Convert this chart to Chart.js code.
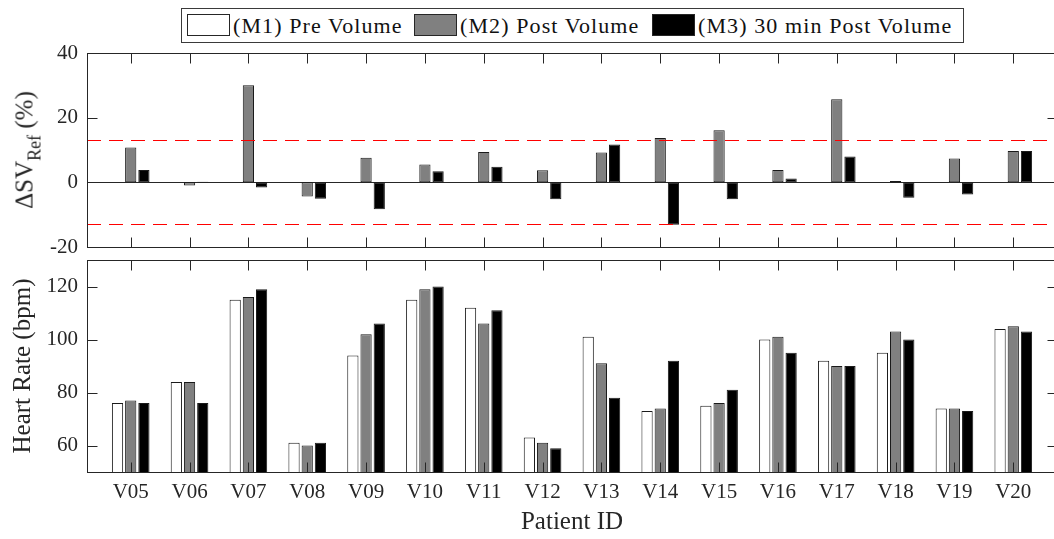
<!DOCTYPE html>
<html>
<head>
<meta charset="utf-8">
<script src="https://cdn.jsdelivr.net/npm/chart.js@4.4.1/dist/chart.umd.min.js"></script>
<style>
  html, body { margin: 0; padding: 0; background: #fff; overflow: hidden; }
  #wrap { position: relative; width: 1070px; height: 539px; font-family: 'Liberation Serif', 'Times New Roman', serif; color: #111; }
  canvas { position: absolute; left: 0; top: 0; }
  #legend { position: absolute; left: 181px; top: 8px; width: 781px; height: 33px; border: 1px solid #3a3a3a; background: #fff; }
  .sw { position: absolute; top: 5px; width: 41px; height: 20px; border: 1px solid #262626; }
  .lt { position: absolute; top: 0; line-height: 33px; font-size: 22px; white-space: nowrap; letter-spacing: 1.1px; }
  #svTitle { position: absolute; left: 23.6px; top: 150px; transform: translate(-50%, -50%) rotate(-90deg);
             font-size: 25px; line-height: 25px; white-space: nowrap; color: #262626; }
  #svTitle span { font-size: 18px; line-height: 0; position: relative; top: 8px; }
</style>
</head>
<body>
<div id="wrap">
  <canvas id="svChart" width="1070" height="539"></canvas>
  <canvas id="hrChart" width="1070" height="539"></canvas>
  <div id="svTitle">ΔSV<span>Ref</span> (%)</div>
  <div id="legend"></div>
</div>
<script>
// patients on the x axis
const patients = ['V05', 'V06', 'V07', 'V08', 'V09', 'V10', 'V11', 'V12',
                  'V13', 'V14', 'V15', 'V16', 'V17', 'V18', 'V19', 'V20'];

const seriesNames = ['(M1) Pre Volume', '(M2) Post Volume', '(M3) 30 min Post Volume'];

// change in stroke volume vs reference (%)
const svM1 = [0, 0, 0, 0, 0, 0, 0, 0, 0, 0, 0, 0, 0, 0, 0, 0];
const svM2 = [10.8, -1.0, 30.0, -4.4, 7.6, 5.5, 9.4, 3.7, 9.2, 13.7, 16.1, 3.8, 25.7, 0.4, 7.4, 9.7];
const svM3 = [3.8, 0.2, -1.6, -5.1, -8.3, 3.4, 4.8, -5.2, 11.7, -13.1, -5.2, 1.2, 8.0, -4.8, -3.8, 9.7];
const svLimits = [13, -13];
const svTicks = [-20, 0, 20, 40];

// heart rate (bpm)
const hrM1 = [76, 84, 115, 61, 94, 115, 112, 63, 101, 73, 75, 100, 92, 95, 74, 104];
const hrM2 = [77, 84, 116, 60, 102, 119, 106, 61, 91, 74, 76, 101, 90, 103, 74, 105];
const hrM3 = [76, 76, 119, 61, 106, 120, 111, 59, 78, 92, 81, 95, 90, 100, 73, 103];
const hrTicks = [60, 80, 100, 120];

const fills = ['#ffffff', '#808080', '#000000'];
const AXIS = '#262626';
const TICK_LEN = 10;
const X_MIN = 0.257;
const X_MAX = patients.length + 0.743;

Chart.defaults.font.family = "'Liberation Serif', 'Times New Roman', serif";
Chart.defaults.color = AXIS;

const toPoints = vals => vals.map((v, i) => ({ x: i + 1, y: v }));

function barSets(series) {
  return series.map((vals, k) => ({
    label: seriesNames[k],
    data: toPoints(vals),
    backgroundColor: fills[k],
    borderColor: '#1a1a1a',
    borderWidth: 1,
    borderSkipped: false,
    categoryPercentage: 0.673,
    barPercentage: 0.85,
  }));
}

// matlab-ish box with inward ticks, zero baseline and dashed limit lines
const boxPlugin = {
  id: 'box',
  beforeDatasetsDraw(chart, args, opts) {
    if (!opts.baseline) return;
    const { ctx, chartArea: a, scales: { y } } = chart;
    const py = Math.round(y.getPixelForValue(0)) + 0.5;
    ctx.save();
    ctx.strokeStyle = AXIS;
    ctx.lineWidth = 1;
    ctx.beginPath();
    ctx.moveTo(a.left, py);
    ctx.lineTo(a.right, py);
    ctx.stroke();
    ctx.restore();
  },
  afterDatasetsDraw(chart, args, opts) {
    const { ctx, chartArea: a, scales: { x, y } } = chart;
    ctx.save();
    ctx.lineWidth = 1;
    (opts.refLines || []).forEach(v => {
      const py = Math.round(y.getPixelForValue(v)) + 0.5;
      ctx.strokeStyle = '#ff0000';
      ctx.setLineDash([14, 8]);
      ctx.beginPath();
      ctx.moveTo(a.left, py);
      ctx.lineTo(a.right, py);
      ctx.stroke();
    });
    ctx.setLineDash([]);
    ctx.strokeStyle = AXIS;
    const l = Math.round(a.left) + 0.5, r = Math.round(a.right) + 0.5;
    const t = Math.round(a.top) + 0.5, b = Math.round(a.bottom) + 0.5;
    ctx.strokeRect(l, t, r - l, b - t);
    ctx.beginPath();
    patients.forEach((_, i) => {
      const px = Math.round(x.getPixelForValue(i + 1)) + 0.5;
      ctx.moveTo(px, t); ctx.lineTo(px, t + TICK_LEN);
      ctx.moveTo(px, b); ctx.lineTo(px, b - TICK_LEN);
    });
    y.ticks.forEach(tk => {
      const py = Math.round(y.getPixelForValue(tk.value)) + 0.5;
      ctx.moveTo(l, py); ctx.lineTo(l + TICK_LEN, py);
      ctx.moveTo(r, py); ctx.lineTo(r - TICK_LEN, py);
    });
    ctx.stroke();
    ctx.restore();
  }
};

const xCommon = {
  type: 'linear', min: X_MIN, max: X_MAX, bounds: 'data', offset: false,
  afterBuildTicks: s => { s.ticks = patients.map((_, i) => ({ value: i + 1 })); },
};

const yCommon = {
  grid: { display: false, drawTicks: false },
  border: { display: false },
  ticks: { font: { size: 21 }, padding: 9, color: AXIS },
  afterFit: s => { s.width = 87; },
};

new Chart(document.getElementById('svChart'), {
  type: 'bar',
  data: { datasets: barSets([svM1, svM2, svM3]) },
  plugins: [boxPlugin],
  options: {
    responsive: false,
    animation: false,
    devicePixelRatio: 1,
    layout: { padding: { top: 53, bottom: 292, left: 0, right: 13 } },
    plugins: {
      legend: { display: false },
      tooltip: { enabled: false },
      box: { baseline: true, refLines: svLimits },
    },
    scales: {
      x: Object.assign({}, xCommon, { display: false }),
      y: Object.assign({}, yCommon, {
        min: svTicks[0], max: svTicks[svTicks.length - 1],
        afterBuildTicks: s => { s.ticks = svTicks.map(v => ({ value: v })); },
      }),
    },
  },
});

new Chart(document.getElementById('hrChart'), {
  type: 'bar',
  data: { datasets: barSets([hrM1, hrM2, hrM3]) },
  plugins: [boxPlugin],
  options: {
    responsive: false,
    animation: false,
    devicePixelRatio: 1,
    layout: { padding: { top: 260, bottom: 0, left: 0, right: 13 } },
    plugins: {
      legend: { display: false },
      tooltip: { enabled: false },
      box: {},
    },
    scales: {
      x: Object.assign({}, xCommon, {
        grid: { display: false, drawTicks: false },
        border: { display: false },
        afterFit: s => { s.height = 67; },
        ticks: {
          font: { size: 21 }, padding: 8, color: AXIS, autoSkip: false, maxRotation: 0,
          callback: v => patients[v - 1],
        },
        title: { display: true, text: 'Patient ID', font: { size: 25 }, color: AXIS, padding: { top: 0, bottom: 2 } },
      }),
      y: Object.assign({}, yCommon, {
        min: 50, max: 130,
        afterBuildTicks: s => { s.ticks = hrTicks.map(v => ({ value: v })); },
        title: { display: true, text: 'Heart Rate (bpm)', font: { size: 25 }, color: AXIS, padding: { top: 8, bottom: 0 } },
      }),
    },
  },
});

// legend (positions follow the figure)
const legendItems = [
  { sw: 5, txt: 51 },
  { sw: 232, txt: 278 },
  { sw: 470, txt: 516 },
];
const legend = document.getElementById('legend');
legendItems.forEach((it, k) => {
  const sw = document.createElement('div');
  sw.className = 'sw';
  sw.style.left = it.sw + 'px';
  sw.style.background = fills[k];
  legend.appendChild(sw);
  const tx = document.createElement('div');
  tx.className = 'lt';
  tx.style.left = it.txt + 'px';
  tx.textContent = seriesNames[k];
  legend.appendChild(tx);
});
</script>
</body>
</html>
